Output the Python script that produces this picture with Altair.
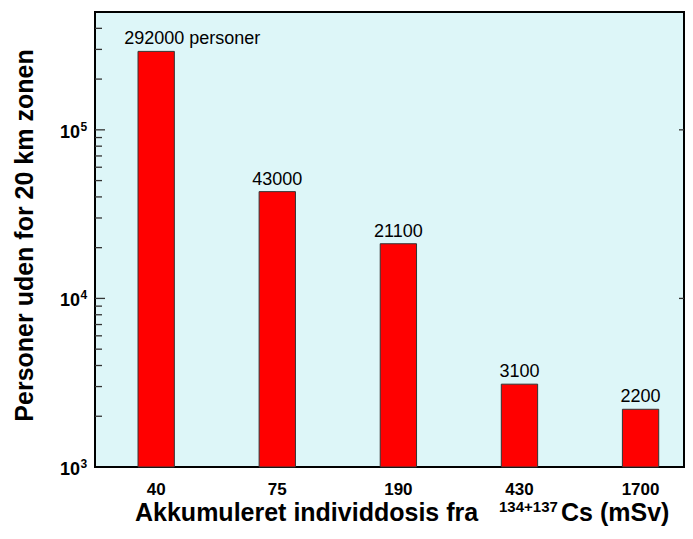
import altair as alt
import pandas as pd

# ---- data ----
doses = ["40", "75", "190", "430", "1700"]
persons = [292000, 43000, 21100, 3100, 2200]
bar_labels = ["292000 personer", "43000", "21100", "3100", "2200"]

major_ticks = [10000, 100000]
minor_ticks = [2000, 3000, 4000, 5000, 6000, 7000, 8000, 9000,
               20000, 30000, 40000, 50000, 60000, 70000, 80000, 90000,
               200000, 300000, 400000]
y_label_values = [1000, 10000, 100000]
y_label_base = ["10", "10", "10"]
y_label_exp = ["3", "4", "5"]

y_title = "Personer uden for 20 km zonen"
x_title_main = "Akkumuleret individdosis fra"
x_title_sup = "134+137"
x_title_end = "Cs (mSv)"

W, H = 589, 455
FONT = "Liberation Sans"

df = pd.DataFrame({"dose": doses, "persons": persons, "label": bar_labels,
                   "idx": list(range(len(doses)))})
df_major = pd.DataFrame({"persons": major_ticks})
df_minor = pd.DataFrame({"persons": minor_ticks})
df_ylab = pd.DataFrame({"persons": y_label_values, "b": y_label_base, "e": y_label_exp})
df_title = pd.DataFrame({"t": [x_title_main], "s": [x_title_sup], "c": [x_title_end]})

yscale = alt.Scale(type="log", domain=[1000, 500000], nice=False)
xscale = alt.Scale(paddingInner=0.7, paddingOuter=0.282, align=0.63)

yaxis = alt.Axis(title=y_title, labels=False, ticks=False, domain=False, grid=False,
                 titleFont=FONT, titleFontSize=25, titleFontWeight="bold",
                 titleColor="black", titleAngle=270, titleX=-63, titleY=223,
                 titleBaseline="alphabetic", titleAlign="center")
y_enc = alt.Y("persons:Q", scale=yscale, axis=yaxis)

x_enc = alt.X("dose:N", sort=doses, scale=xscale,
              axis=alt.Axis(title=None, labelAngle=0, ticks=False, domain=False,
                            labelFont=FONT, labelFontSize=17, labelFontWeight="bold",
                            labelColor="black", labelPadding=14))

base = alt.Chart(df)

bars = base.mark_bar(color="#ff0000", stroke="#333333", strokeWidth=1).encode(
    x=x_enc, y=y_enc, y2=alt.datum(1000))

text_first = base.transform_filter("datum.idx == 0").mark_text(
    font=FONT, fontSize=18, color="black", align="left", baseline="alphabetic",
    dx=-32, dy=-7).encode(x=x_enc, y=y_enc, text="label:N")

text_rest = base.transform_filter("datum.idx > 0").mark_text(
    font=FONT, fontSize=18, color="black", align="center", baseline="alphabetic",
    dy=-7).encode(x=x_enc, y=y_enc, text="label:N")

minor_left = alt.Chart(df_minor).mark_rule(color="#333333", strokeWidth=1.3).encode(
    y=y_enc, x=alt.value(0), x2=alt.value(7))

major_left = alt.Chart(df_major).mark_rule(color="#333333", strokeWidth=1.3).encode(
    y=y_enc, x=alt.value(0), x2=alt.value(10))

major_right = alt.Chart(df_major).mark_rule(color="#333333", strokeWidth=1.3).encode(
    y=y_enc, x=alt.value(W - 5), x2=alt.value(W))

ylab_base = alt.Chart(df_ylab).mark_text(
    font=FONT, fontSize=18, fontWeight="bold", color="black", align="right",
    baseline="alphabetic", dy=8).encode(y=y_enc, x=alt.value(-15), text="b:N")

ylab_exp = alt.Chart(df_ylab).mark_text(
    font=FONT, fontSize=12, fontWeight="bold", color="black", align="left",
    baseline="alphabetic", dy=1).encode(y=y_enc, x=alt.value(-14.5), text="e:N")

title_main = alt.Chart(df_title).mark_text(
    font=FONT, fontSize=25, fontWeight="bold", color="black", align="left",
    baseline="alphabetic").encode(x=alt.value(40), y=alt.value(H + 54), text="t:N")
title_sup = alt.Chart(df_title).mark_text(
    font=FONT, fontSize=15, fontWeight="bold", color="black", align="left",
    baseline="alphabetic").encode(x=alt.value(404), y=alt.value(H + 45), text="s:N")
title_end = alt.Chart(df_title).mark_text(
    font=FONT, fontSize=25, fontWeight="bold", color="black", align="left",
    baseline="alphabetic").encode(x=alt.value(466), y=alt.value(H + 54), text="c:N")

chart = alt.layer(bars, text_first, text_rest, minor_left, major_left, major_right,
                  ylab_base, ylab_exp, title_main, title_sup, title_end).properties(
    width=W, height=H,
    autosize=alt.AutoSizeParams(type="none"),
    padding={"left": 87, "top": 4, "right": 1, "bottom": 59},
).configure_view(
    fill="#ddf6f8", stroke="black", strokeWidth=2
)

chart.save("out.html", embed_options={"renderer": "svg", "actions": False})
